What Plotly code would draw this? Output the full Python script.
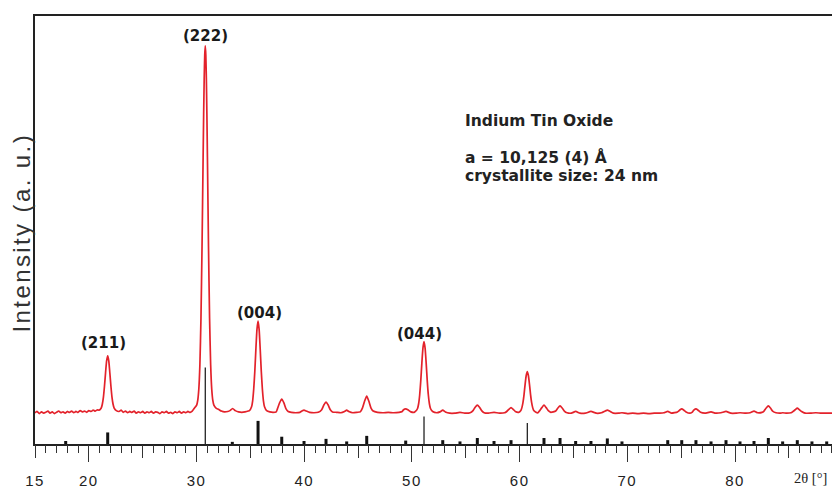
import plotly.graph_objects as go

# ---------------- data ----------------
two_theta = [
    15.0, 15.2, 15.4, 15.6, 15.8, 16.0, 16.2, 16.4, 16.6, 16.8,
    17.0, 17.2, 17.4, 17.6, 17.8, 18.0, 18.2, 18.4, 18.6, 18.8,
    19.0, 19.2, 19.4, 19.6, 19.8, 20.0, 20.2, 20.4, 20.6, 20.8,
    20.95, 21.15, 21.25, 21.35, 21.45, 21.55, 21.65, 21.75, 21.85, 21.95,
    22.05, 22.15, 22.25, 22.35, 22.55,
    22.8, 23.0, 23.2, 23.4, 23.6, 23.8, 24.0, 24.2, 24.4, 24.6,
    24.8, 25.0, 25.2, 25.4, 25.6, 25.8, 26.0, 26.2, 26.4, 26.6,
    26.8, 27.0, 27.2, 27.4, 27.6, 27.8, 28.0, 28.2, 28.4, 28.6,
    28.8, 29.0, 29.2, 29.4, 29.6,
    29.81, 30.01, 30.11, 30.21, 30.31, 30.41, 30.51, 30.61, 30.66, 30.71,
    30.76, 30.81, 30.86, 30.91, 30.96, 31.01, 31.11, 31.21, 31.31, 31.41,
    31.51, 31.61, 31.81, 32.1,
    32.3, 32.6, 32.9, 33.1, 33.35, 33.6, 33.9, 34.2, 34.5, 34.8,
    34.91, 35.11, 35.21, 35.31, 35.41, 35.51, 35.61, 35.71, 35.81, 35.91,
    36.01, 36.11, 36.21, 36.31, 36.51,
    36.8, 37.1, 37.4, 37.51, 37.71, 37.91, 38.11, 38.31, 38.51, 38.8,
    39.2, 39.6, 39.78, 39.98, 40.18, 40.5, 40.9, 41.3, 41.62, 41.82,
    42.02, 42.22, 42.42, 42.62, 43.0, 43.4, 43.74, 43.94, 44.14, 44.5,
    44.9, 45.2, 45.4, 45.6, 45.8, 46.0, 46.2, 46.4, 46.8, 47.3,
    47.8, 48.3, 48.8, 49.1, 49.22, 49.42, 49.62, 49.9, 50.2,
    50.32, 50.52, 50.62, 50.72, 50.82, 50.92, 51.02, 51.12, 51.22, 51.32,
    51.42, 51.52, 51.62, 51.72, 51.92,
    52.3, 52.6, 52.86, 53.1, 53.5, 54.0, 54.46, 54.9, 55.4, 55.67,
    55.87, 56.07, 56.27, 56.47, 56.7, 57.1, 57.62, 58.1, 58.6, 58.8,
    59.0, 59.2, 59.4, 59.6,
    59.91, 60.11, 60.21, 60.31, 60.41, 60.51, 60.61, 60.71, 60.81, 60.91,
    61.01, 61.11, 61.21, 61.31, 61.51,
    61.7, 61.86, 62.06, 62.26, 62.46, 62.66, 62.9, 63.35, 63.55, 63.75,
    63.95, 64.15, 64.4, 64.8, 65.2, 65.6, 66.1, 66.62, 67.1, 67.6,
    67.94, 68.14, 68.34, 68.7, 69.2, 69.5, 70.0, 70.5, 71.0, 71.5,
    72.0, 72.5, 73.0, 73.4, 73.75, 74.1,
    74.65, 74.85, 75.05, 75.25, 75.45, 75.8, 76.0, 76.17, 76.37, 76.57,
    76.8, 77.2, 77.77, 78.2, 78.7, 79.16, 79.6, 80.1, 80.46, 81.0,
    81.4, 81.76, 82.1, 82.5, 82.69, 82.89, 83.09, 83.29, 83.49, 83.8,
    84.2, 84.42, 84.8, 85.2, 85.38, 85.58, 85.78, 85.98, 86.18, 86.5,
    87.0, 87.5, 88.0, 88.5, 89.0,
]
intensity = [
    73, 76, 71, 75, 72, 74, 77, 72, 75, 71,
    74, 77, 73, 75, 72, 76, 74, 77, 73, 76,
    74, 78, 75, 77, 74, 78, 76, 79, 77, 80,
    79, 84, 93, 109, 135, 166, 194, 206, 194, 166,
    135, 109, 93, 84, 78,
    76, 79, 74, 77, 73, 76, 74, 77, 72, 75,
    73, 76, 72, 75, 73, 76, 72, 75, 74, 71,
    75, 73, 76, 72, 74, 71, 75, 73, 76, 72,
    75, 73, 76, 74, 77,
    84, 91, 102, 128, 185, 294, 462, 670, 771, 854,
    909, 930, 909, 854, 771, 670, 462, 294, 185, 128,
    102, 91, 84, 80,
    77, 75, 76, 78, 83, 78, 75, 74, 75, 77,
    78, 87, 101, 129, 170, 222, 268, 287, 268, 222,
    170, 129, 101, 87, 78,
    75, 74, 75, 82, 96, 105, 96, 82, 76, 74,
    73, 74, 77, 79, 77, 74, 73, 74, 80, 91,
    98, 91, 80, 75, 74, 73, 76, 79, 76, 73,
    74, 75, 84, 100, 112, 100, 84, 77, 74, 73,
    74, 73, 74, 76, 80, 82, 80, 75, 74,
    76, 83, 94, 115, 148, 189, 224, 239, 224, 189,
    148, 115, 94, 83, 76,
    73, 75, 79, 75, 72, 72, 74, 72, 73, 78,
    86, 91, 86, 78, 73, 72, 74, 72, 73, 76,
    81, 85, 81, 76,
    74, 78, 85, 97, 116, 140, 160, 169, 160, 140,
    116, 97, 85, 78, 74,
    73, 78, 85, 91, 85, 78, 74, 77, 84, 89,
    84, 77, 73, 72, 76, 72, 72, 76, 72, 73,
    77, 79, 77, 72, 72, 73, 71, 72, 71, 72,
    71, 72, 72, 73, 76, 72,
    75, 79, 82, 79, 75, 72, 74, 79, 82, 79,
    74, 72, 75, 72, 73, 76, 72, 72, 73, 72,
    73, 77, 73, 74, 77, 84, 89, 84, 77, 73,
    72, 73, 72, 73, 76, 80, 84, 80, 76, 72,
    72, 73, 72, 72, 72,
]

# reference (PDF card) line positions and heights
ref_two_theta = [17.85, 21.75, 30.81, 33.32, 35.71, 37.91, 39.98, 42.02, 43.94, 45.80,
                 49.42, 51.12, 52.86, 54.46, 56.07, 57.62, 59.20, 60.71, 62.26, 63.75,
                 65.20, 66.62, 68.14, 69.50, 73.75, 75.05, 76.37, 77.77, 79.16, 80.46,
                 81.76, 83.09, 84.42, 85.78, 87.14, 88.51]
ref_intensity = [7, 27, 179, 5, 54, 17, 7, 12, 6, 19,
                 8, 64, 9, 6, 14, 7, 9, 49, 14, 14,
                 7, 7, 13, 6, 9, 9, 9, 6, 9, 6,
                 7, 14, 6, 9, 6, 6]

peak_labels = ["(211)", "(222)", "(004)", "(044)"]
x_label_vals = [15, 20, 30, 40, 50, 60, 70, 80]
x_label_text = ["15", "20", "30", "40", "50", "60", "70", "80"]
info_lines = ["Indium Tin Oxide", "a = 10,125 (4) Å", "crystallite size: 24 nm"]
y_title = "Intensity (a. u.)"
x_title = "2θ [°]"

assert len(two_theta) == len(intensity)

# ---------------- layout / style ----------------
W, H = 832, 489
ML, MR, MT, MB = 35, 0, 16, 45
PW, PH = W - ML - MR, H - MT - MB
PX_PER_DEG = 10.77
X_RANGE = [15, 15 + PW / PX_PER_DEG]

THIN_LINES = {30.81, 51.12, 60.71}   # style: these reference lines are drawn thin


def px(x):
    return (x - ML) / PW


def py(y):
    return (H - MB - y) / PH


fig = go.Figure()
fig.add_trace(go.Scatter(
    x=two_theta, y=intensity, mode="lines", xaxis="x", yaxis="y",
    line=dict(color="#e3222b", width=1.7, shape="spline", smoothing=0.5),
    hoverinfo="skip", showlegend=False))

thick_x, thick_y, thin_x, thin_y = [], [], [], []
for p, v in zip(ref_two_theta, ref_intensity):
    if p in THIN_LINES:
        thin_x += [p, p, None]
        thin_y += [0, v, None]
    else:
        thick_x += [p, p, None]
        thick_y += [0, v, None]

# thick reference lines live on x2 (long ticks + minor ticks), thin ones on x3 (medium ticks)
fig.add_trace(go.Scatter(x=thick_x, y=thick_y, mode="lines", xaxis="x2", yaxis="y",
                         line=dict(color="#111111", width=3),
                         hoverinfo="skip", showlegend=False))
fig.add_trace(go.Scatter(x=thin_x, y=thin_y, mode="lines", xaxis="x3", yaxis="y",
                         line=dict(color="#111111", width=1.2),
                         hoverinfo="skip", showlegend=False))

tick_font = dict(family="Liberation Sans, Arial, sans-serif", size=15, color="#222222")
spaced = [f'<span style="letter-spacing:1.5px">{t}</span>' for t in x_label_text]

fig.update_layout(
    width=W, height=H,
    margin=dict(l=ML, r=MR, t=MT, b=MB, pad=0),
    paper_bgcolor="white", plot_bgcolor="white",
    showlegend=False,
    xaxis=dict(range=X_RANGE, showline=True, linewidth=2, linecolor="#222222",
               mirror=True, ticks="", tickmode="array", tickvals=x_label_vals,
               ticktext=spaced, tickfont=tick_font, ticklabelstandoff=22,
               showgrid=False, zeroline=False),
    xaxis2=dict(overlaying="x", anchor="y", side="bottom", range=X_RANGE,
                tickmode="linear", tick0=0, dtick=10, ticks="outside", ticklen=17,
                tickwidth=1.3, tickcolor="#333333", showticklabels=False,
                showline=False, showgrid=False, zeroline=False,
                minor=dict(tickmode="linear", tick0=0, dtick=1, ticks="outside",
                           ticklen=8, tickwidth=1.2, tickcolor="#333333", showgrid=False)),
    xaxis3=dict(overlaying="x", anchor="y", side="bottom", range=X_RANGE,
                tickmode="linear", tick0=15, dtick=10, ticks="outside", ticklen=13,
                tickwidth=1.3, tickcolor="#333333", showticklabels=False,
                showline=False, showgrid=False, zeroline=False),
    yaxis=dict(range=[0, 1000], showline=True, linewidth=2, linecolor="#222222",
               ticks="", showticklabels=False, showgrid=False, zeroline=False),
)

ann = []
label_font = dict(family="DejaVu Sans, sans-serif", size=15, color="#1a1a1a")
label_pix = [(103.5, 343), (205, 35.5), (259.5, 313), (419, 334)]
for txt, (lx, ly) in zip(peak_labels, label_pix):
    ann.append(dict(text=f"<b>{txt}</b>", x=px(lx), y=py(ly), xref="paper", yref="paper",
                    xanchor="center", yanchor="middle", showarrow=False, font=label_font))

info_font = dict(family="DejaVu Sans, sans-serif", size=15.5, color="#222222")
for txt, ly in zip(info_lines, [121.3, 157.6, 175.6]):
    ann.append(dict(text=f"<b>{txt}</b>", x=px(463), y=py(ly), xref="paper", yref="paper",
                    xanchor="left", yanchor="middle", showarrow=False, font=info_font))

ann.append(dict(text=f'<span style="letter-spacing:2.4px">{y_title}</span>',
                x=px(21), y=py(232.5), xref="paper", yref="paper",
                xanchor="center", yanchor="middle", textangle=-90, showarrow=False,
                font=dict(family="Liberation Sans, Arial, sans-serif", size=24, color="#333333")))
ann.append(dict(text=x_title, x=px(829), y=py(478), xref="paper", yref="paper",
                xanchor="right", yanchor="middle", showarrow=False,
                font=dict(family="Liberation Serif, Times New Roman, serif", size=14.5,
                          color="#222222")))
fig.update_layout(annotations=ann)

fig.write_html("out.html", config={"displayModeBar": False},
               post_script="document.body.style.margin='0px';")
